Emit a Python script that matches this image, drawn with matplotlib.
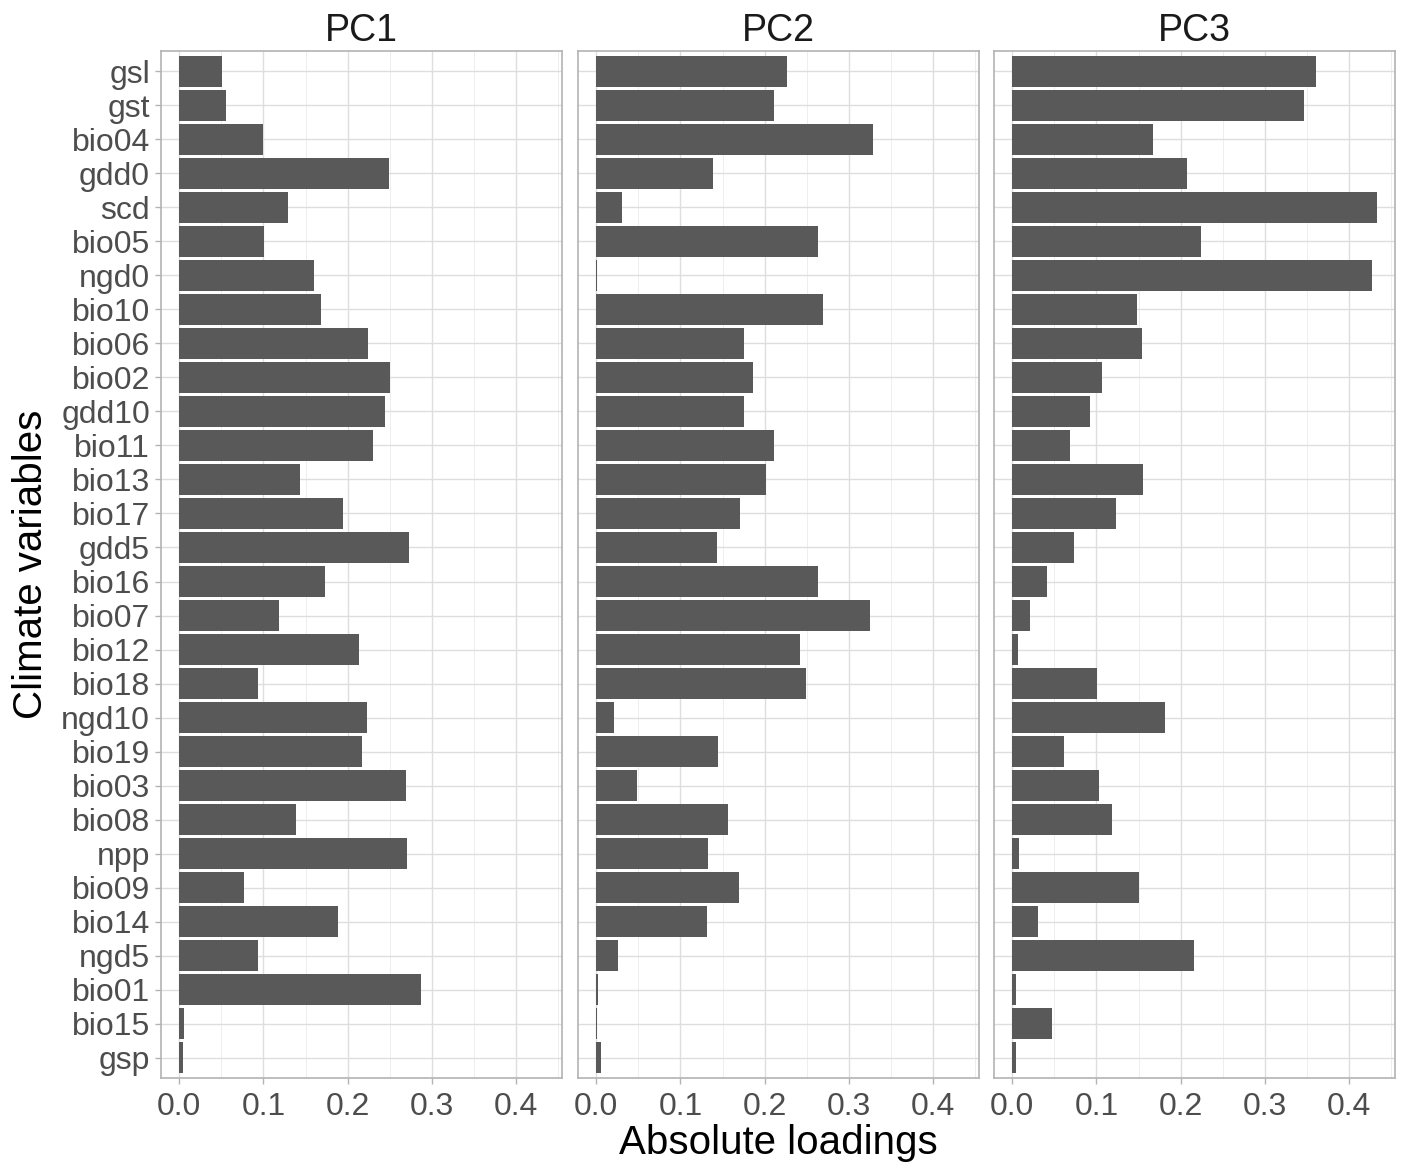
import matplotlib
matplotlib.use("Agg")
import matplotlib.pyplot as plt
import numpy as np

variables = ["gsl", "gst", "bio04", "gdd0", "scd", "bio05", "ngd0", "bio10", "bio06", "bio02",
             "gdd10", "bio11", "bio13", "bio17", "gdd5", "bio16", "bio07", "bio12", "bio18", "ngd10",
             "bio19", "bio03", "bio08", "npp", "bio09", "bio14", "ngd5", "bio01", "bio15", "gsp"]

pc1 = [0.051, 0.055, 0.100, 0.249, 0.129, 0.101, 0.160, 0.168, 0.224, 0.250,
       0.245, 0.230, 0.143, 0.194, 0.273, 0.173, 0.118, 0.213, 0.094, 0.223,
       0.217, 0.269, 0.139, 0.271, 0.077, 0.189, 0.093, 0.287, 0.006, 0.005]
pc2 = [0.227, 0.211, 0.329, 0.139, 0.031, 0.264, 0.001, 0.269, 0.176, 0.186,
       0.175, 0.211, 0.202, 0.171, 0.143, 0.263, 0.325, 0.242, 0.249, 0.021,
       0.145, 0.048, 0.157, 0.133, 0.169, 0.131, 0.026, 0.002, 0.001, 0.006]
pc3 = [0.361, 0.347, 0.167, 0.207, 0.433, 0.224, 0.427, 0.148, 0.154, 0.107,
       0.092, 0.069, 0.155, 0.123, 0.073, 0.041, 0.021, 0.007, 0.101, 0.181,
       0.061, 0.103, 0.118, 0.008, 0.151, 0.031, 0.216, 0.005, 0.047, 0.004]

panels = ["PC1", "PC2", "PC3"]
values = [pc1, pc2, pc3]
xticks = [0.0, 0.1, 0.2, 0.3, 0.4]

plt.rcParams['font.family'] = ['Liberation Sans', 'DejaVu Sans']

fig = plt.figure(figsize=(14.11, 11.69), dpi=100)
W, H = 1411, 1169
lefts = [161, 578, 994]
rights = [562, 979, 1395]
top, bottom = 51, 1078

n = len(variables)
ypos = np.arange(n)[::-1]
vmax = max(max(pc1), max(pc2), max(pc3))
xl = (-0.05 * vmax, vmax * 1.05)

for i, (name, vals) in enumerate(zip(panels, values)):
    ax = fig.add_axes([lefts[i] / W, 1 - bottom / H, (rights[i] - lefts[i]) / W, (bottom - top) / H])
    ax.set_axisbelow(True)
    ax.barh(ypos, vals, height=0.9, color="#595959", edgecolor="none", zorder=2)
    ax.set_xlim(xl)
    ax.set_ylim(-0.6, n - 1 + 0.6)
    ax.set_xticks(xticks)
    ax.set_xticks([0.05, 0.15, 0.25, 0.35, 0.45], minor=True)
    ax.set_xticklabels([f"{t:.1f}" for t in xticks], fontsize=23, color="#4D4D4D")
    ax.set_yticks(ypos)
    ax.grid(True, which="major", color="#DEDEDE", linewidth=1.0, zorder=0)
    ax.grid(True, which="minor", axis="x", color="#EBEBEB", linewidth=0.6, zorder=0)
    ax.tick_params(axis="both", which="major", color="#B3B3B3", length=4, width=1, pad=3)
    ax.tick_params(axis="x", which="major", pad=6)
    ax.tick_params(axis="x", which="minor", length=0)
    if i == 0:
        ax.set_yticklabels(variables, fontsize=23, color="#4D4D4D")
        ax.tick_params(axis="y", length=4, pad=4)
    else:
        ax.set_yticklabels([])
        ax.tick_params(axis="y", length=0)
    for s in ax.spines.values():
        s.set_color("#B3B3B3")
        s.set_linewidth(1.2)
    ax.set_title(name, fontsize=27, color="#1A1A1A", pad=7)

fig.text((lefts[0] + rights[2]) / 2 / W, 1 - 1143 / H, "Absolute loadings", ha="center", va="center", fontsize=29)
fig.text(31 / W, 1 - (top + bottom) / 2 / H, "Climate variables", ha="center", va="center", rotation=90, fontsize=29)

fig.savefig("out.png", dpi=100)
